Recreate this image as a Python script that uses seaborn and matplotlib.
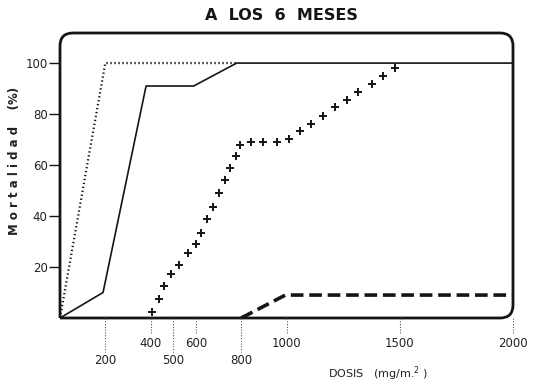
import numpy as np
import pandas as pd
import matplotlib
matplotlib.use("Agg")
import matplotlib.pyplot as plt
import matplotlib.transforms as mtransforms
from matplotlib.path import Path
from matplotlib.patches import PathPatch
import seaborn as sns

# ---- data ----
dotted_x = [0, 200, 780]
dotted_y = [0, 100, 100]

solid_x = [0, 190, 380, 590, 780, 2000]
solid_y = [0, 10, 91, 91, 100, 100]

cross_x = [405, 437, 460, 489, 527, 566, 599, 623, 648, 677, 701, 728, 751, 776,
           795, 842, 898, 957, 1013, 1060, 1108, 1163, 1216, 1266, 1317, 1376, 1427, 1479]
cross_y = [2.5, 7.3, 12.5, 17.3, 20.9, 25.4, 28.9, 33.5, 38.7, 43.6, 48.9, 54.1, 58.9, 63.5,
           67.8, 69, 69, 69, 70.2, 73.3, 76, 79.2, 82.6, 85.5, 88.5, 91.8, 95, 98.2]

dashed_x = [800, 995, 2000]
dashed_y = [0, 9, 9]

xticks = [200, 400, 500, 600, 800, 1000, 1500, 2000]
xtick_labels = ["200", "400", "500", "600", "800", "1000", "1500", "2000"]
xtick_lower = [True, False, True, False, True, False, False, False]
yticks = [20, 40, 60, 80, 100]

sns.set_theme(style="white")
plt.rcParams['font.family'] = ['DejaVu Sans']

W, H = 536, 383
axw, axh = 513 - 60, 318 - 33
fig = plt.figure(figsize=(W / 100, H / 100), dpi=100)
ax = fig.add_axes([60 / W, 1 - 318 / H, axw / W, axh / H])
ax.set_xlim(0, 2000)
ax.set_ylim(0, 111.8)
ink = "#151515"

sns.lineplot(x=dotted_x, y=dotted_y, ax=ax, color=ink, lw=1.6, linestyle=(0, (0.6, 1.2)),
             sort=False, estimator=None)
sns.lineplot(x=solid_x, y=solid_y, ax=ax, color=ink, lw=1.2, sort=False, estimator=None)
sns.lineplot(x=dashed_x, y=dashed_y, ax=ax, color=ink, lw=2.6, linestyle=(0, (3.5, 1.6)),
             sort=False, estimator=None)
sns.scatterplot(x=cross_x, y=cross_y, ax=ax, marker="+", s=38, color=ink, linewidth=1.4)

for s in ax.spines.values():
    s.set_visible(False)

# rounded frame (square bottom-left corner)
r = 13.0
rx, ry = r / axw, r / axh
verts = [
    (0, 0),
    (0, 1 - ry), (0, 1), (rx, 1),
    (1 - rx, 1), (1, 1), (1, 1 - ry),
    (1, ry), (1, 0), (1 - rx, 0),
    (0, 0),
]
codes = [Path.MOVETO,
         Path.LINETO, Path.CURVE3, Path.CURVE3,
         Path.LINETO, Path.CURVE3, Path.CURVE3,
         Path.LINETO, Path.CURVE3, Path.CURVE3,
         Path.LINETO]
ax.add_patch(PathPatch(Path(verts, codes), transform=ax.transAxes, fill=False,
                       ec=ink, lw=2.0, clip_on=False, joinstyle="round"))

# y ticks
ax.set_yticks(yticks)
ax.set_yticklabels([str(v) for v in yticks], fontsize=8.5, color="#222")
ax.tick_params(axis="y", length=8, width=1.0, color=ink, pad=1, left=True)

# x ticks: dotted tick lines and staggered labels
ax.set_xticks([])
trans = mtransforms.blended_transform_factory(ax.transData, ax.transAxes)
for xv, lab, low in zip(xticks, xtick_labels, xtick_lower):
    bottom = -0.12 if low else -0.055
    ax.plot([xv, xv], [0, bottom], transform=trans, color="#555", lw=0.8,
            linestyle=(0, (1, 1.5)), clip_on=False)
    ax.text(xv, -0.128 if low else -0.066, lab, transform=trans, ha="center", va="top",
            fontsize=8.5, color="#222")

ax.set_xlabel("")
ax.set_ylabel("")
fig.text(281 / W, 1 - 15 / H, "A  LOS  6  MESES", ha="center", va="center",
         fontsize=11.5, fontweight="bold", color=ink)
fig.text(15 / W, 1 - 161 / H, "M o r t a l i d a d    (%)", rotation=90, ha="center",
         va="center", fontsize=8.5, fontweight="bold", color="#222")
fig.text(378 / W, 1 - 374 / H, "DOSIS   (mg/m.$^{2}$ )", ha="center", va="center",
         fontsize=8, color="#222")

fig.savefig("out.png", dpi=100, facecolor="white")
